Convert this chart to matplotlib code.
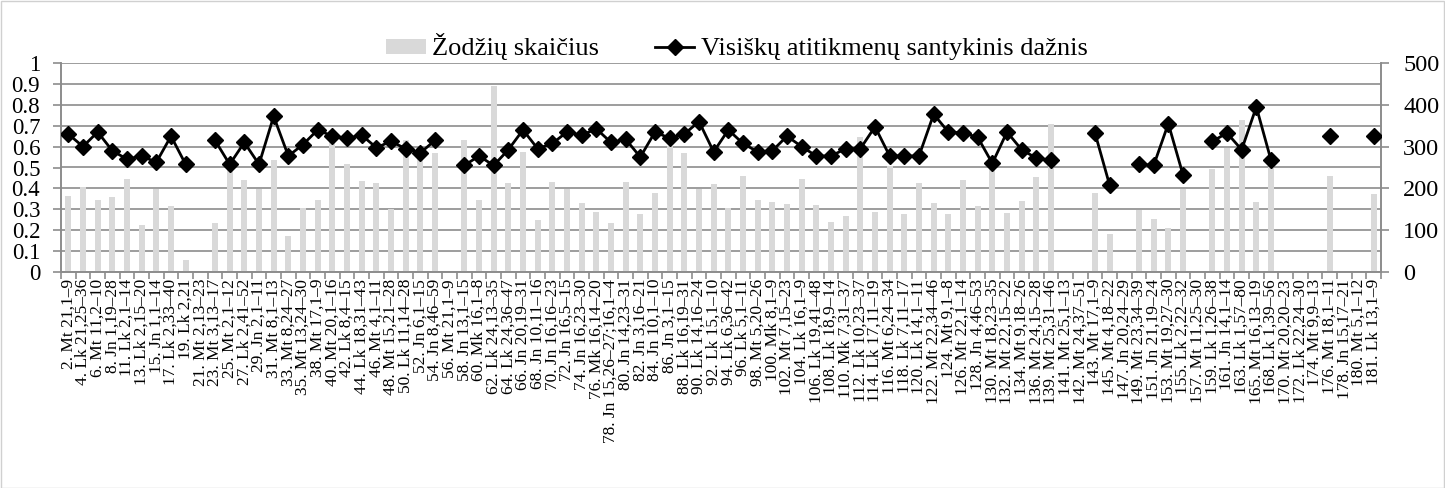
import matplotlib
matplotlib.use("Agg")
import matplotlib.pyplot as plt
import numpy as np
from matplotlib.patches import Rectangle, Patch
from matplotlib.lines import Line2D
from matplotlib.ticker import MultipleLocator, FixedLocator

plt.rcParams['font.family'] = ['Liberation Serif', 'DejaVu Serif']

labels = [
    "2. Mt 21,1–9", "4. Lk 21,25–36", "6. Mt 11,2–10", "8. Jn 1,19–28", "11. Lk 2,1–14",
    "13. Lk 2,15–20", "15. Jn 1,1–14", "17. Lk 2,33–40", "19. Lk 2,21", "21. Mt 2,13–23",
    "23. Mt 3,13–17", "25. Mt 2,1–12", "27. Lk 2,41–52", "29. Jn 2,1–11", "31. Mt 8,1–13",
    "33. Mt 8,24–27", "35. Mt 13,24–30", "38. Mt 17,1–9", "40. Mt 20,1–16", "42. Lk 8,4–15",
    "44. Lk 18,31–43", "46. Mt 4,1–11", "48. Mt 15,21–28", "50. Lk 11,14–28", "52. Jn 6,1–15",
    "54. Jn 8,46–59", "56. Mt 21,1–9", "58. Jn 13,1–15", "60. Mk 16,1–8", "62. Lk 24,13–35",
    "64. Lk 24,36–47", "66. Jn 20,19–31", "68. Jn 10,11–16", "70. Jn 16,16–23", "72. Jn 16,5–15",
    "74. Jn 16,23–30", "76. Mk 16,14–20", "78. Jn 15,26–27;16,1–4", "80. Jn 14,23–31", "82. Jn 3,16–21",
    "84. Jn 10,1–10", "86. Jn 3,1–15", "88. Lk 16,19–31", "90. Lk 14,16–24", "92. Lk 15,1–10",
    "94. Lk 6,36–42", "96. Lk 5,1–11", "98. Mt 5,20–26", "100. Mk 8,1–9", "102. Mt 7,15–23",
    "104. Lk 16,1–9", "106. Lk 19,41–48", "108. Lk 18,9–14", "110. Mk 7,31–37", "112. Lk 10,23–37",
    "114. Lk 17,11–19", "116. Mt 6,24–34", "118. Lk 7,11–17", "120. Lk 14,1–11", "122. Mt 22,34–46",
    "124. Mt 9,1–8", "126. Mt 22,1–14", "128. Jn 4,46–53", "130. Mt 18,23–35", "132. Mt 22,15–22",
    "134. Mt 9,18–26", "136. Mt 24,15–28", "139. Mt 25,31–46", "141. Mt 25,1–13", "142. Mt 24,37–51",
    "143. Mt 17,1–9", "145. Mt 4,18–22", "147. Jn 20,24–29", "149. Mt 23,34–39", "151. Jn 21,19–24",
    "153. Mt 19,27–30", "155. Lk 2,22–32", "157. Mt 11,25–30", "159. Lk 1,26–38", "161. Jn 14,1–14",
    "163. Lk 1,57–80", "165. Mt 16,13–19", "168. Lk 1,39–56", "170. Mt 20,20–23", "172. Lk 22,24–30",
    "174. Mt 9,9–13", "176. Mt 18,1–11", "178. Jn 15,17–21", "180. Mt 5,1–12", "181. Lk 13,1–9",
]

nan = np.nan
word_count = [
    182, 204, 172, 180, 222, 112, 199, 159, 29, 0,
    118, 248, 220, 199, 268, 86, 152, 172, 312, 258,
    218, 212, 150, 316, 272, 284, 0, 316, 172, 445,
    212, 286, 124, 216, 199, 166, 143, 117, 215, 138,
    188, 301, 284, 199, 211, 154, 230, 172, 167, 163,
    222, 160, 119, 134, 324, 144, 254, 139, 212, 164,
    138, 220, 158, 248, 140, 171, 227, 354, 0, 0,
    188, 91, 0, 148, 127, 105, 199, 0, 246, 296,
    364, 167, 252, 0, 0, 0, 230, 0, 0, 186,
]

match_freq = [
    0.66, 0.60, 0.67, 0.58, 0.54, 0.555, 0.525, 0.65, 0.515, nan,
    0.63, 0.515, 0.62, 0.515, 0.745, 0.555, 0.61, 0.68, 0.65, 0.64,
    0.655, 0.595, 0.625, 0.59, 0.57, 0.63, nan, 0.51, 0.555, 0.51,
    0.585, 0.68, 0.59, 0.615, 0.67, 0.655, 0.685, 0.62, 0.635, 0.55,
    0.67, 0.64, 0.66, 0.72, 0.575, 0.68, 0.615, 0.575, 0.58, 0.65,
    0.60, 0.555, 0.555, 0.59, 0.59, 0.695, 0.555, 0.555, 0.555, 0.755,
    0.67, 0.665, 0.645, 0.52, 0.67, 0.585, 0.545, 0.535, nan, nan,
    0.665, 0.415, nan, 0.515, 0.51, 0.71, 0.465, nan, 0.625, 0.665,
    0.585, 0.79, 0.535, nan, nan, nan, 0.65, nan, nan, 0.65,
]

left_ticks = [0, 0.1, 0.2, 0.3, 0.4, 0.5, 0.6, 0.7, 0.8, 0.9, 1]
left_ticklabels = ["0", "0.1", "0.2", "0.3", "0.4", "0.5", "0.6", "0.7", "0.8", "0.9", "1"]
right_ticks = [0, 100, 200, 300, 400, 500]

W, H = 1445, 488
fig = plt.figure(figsize=(W / 100, H / 100), dpi=100)
fig.patches.append(Rectangle((0.5 / W, 0.5 / H), 1 - 1.5 / W, 1 - 1.5 / H, transform=fig.transFigure,
                             fill=False, edgecolor='#d0d0d0', linewidth=1))

rect = [61 / W, 1 - 272 / H, (1381 - 61) / W, (272 - 63) / H]
ax = fig.add_axes(rect)
ax2 = ax.twinx()
ax.set_zorder(2)
ax.patch.set_visible(False)
ax2.set_zorder(1)

gcol = '#8c8c8c'
x = np.arange(len(labels))

# bars (right axis)
ax2.bar(x, word_count, width=0.42, color='#d9d9d9', zorder=2)
ax2.set_ylim(0, 500)
ax2.yaxis.set_major_locator(FixedLocator(right_ticks))
ax2.yaxis.set_minor_locator(MultipleLocator(50))
ax2.grid(True, which='both', axis='y', color=gcol, linewidth=1.2, zorder=0)
ax2.set_axisbelow(True)
ax2.tick_params(axis='y', which='major', direction='out', length=6, width=1.2, color=gcol,
                labelsize=17.5, pad=10)
ax2.tick_params(axis='y', which='minor', length=0)

# line (left axis)
ax.plot(x, match_freq, color='black', linewidth=2, marker='D', markersize=8, zorder=3)
ax.set_ylim(0, 1)
ax.set_yticks(left_ticks)
ax.set_yticklabels(left_ticklabels)
ax.tick_params(axis='y', direction='out', length=6, width=1.2, color=gcol, labelsize=16.5, pad=9)

ax.set_xlim(-0.5, len(labels) - 0.5)
ax.set_xticks(x)
ax.set_xticklabels(labels, rotation=90, fontsize=12.5)
ax.set_xticks(np.arange(len(labels) + 1) - 0.5, minor=True)
ax.tick_params(axis='x', which='major', length=0, pad=5)
ax.tick_params(axis='x', which='minor', direction='out', length=5, width=1.2, color=gcol)
ax2.set_xlim(-0.5, len(labels) - 0.5)

for a in (ax, ax2):
    a.spines['top'].set_visible(False)
    for s in ('left', 'right', 'bottom'):
        a.spines[s].set_color(gcol)
        a.spines[s].set_linewidth(1.2)

handles = [Patch(facecolor='#d9d9d9', edgecolor='none'),
           Line2D([0], [0], color='black', linewidth=2, marker='D', markersize=8)]
fig.legend(handles, ["Žodžių skaičius", "Visiškų atitikmenų santykinis dažnis"],
           loc='center', bbox_to_anchor=(737 / W, 1 - 47 / H), ncol=2, frameon=False,
           fontsize=19, handlelength=1.5, handleheight=0.5, handletextpad=0.25, columnspacing=2.1)

fig.savefig("out.png", dpi=100)
